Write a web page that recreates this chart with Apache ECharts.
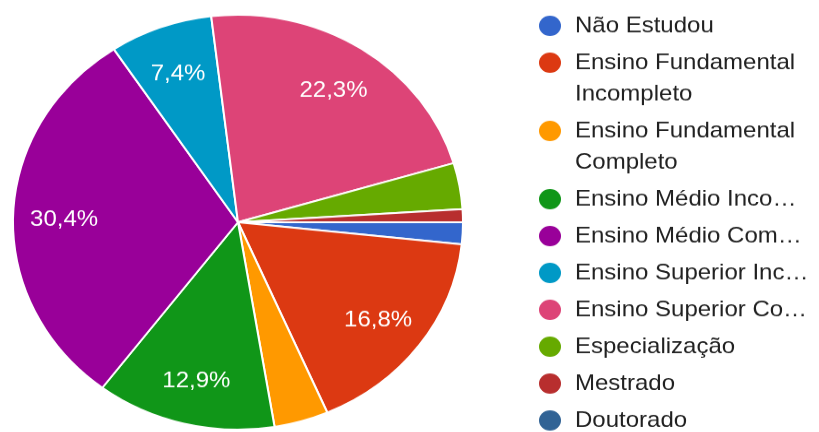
<!DOCTYPE html>
<html>
<head>
<meta charset="utf-8">
<script src="https://cdn.jsdelivr.net/npm/echarts@6/dist/echarts.min.js"></script>
<style>
  html, body { margin: 0; padding: 0; background: #fff; overflow: hidden; width: 819px; height: 432px; }
  #chart { width: 819px; height: 500px; transform: scaleY(0.922); transform-origin: 0 0; }
</style>
</head>
<body>
<div id="chart"></div>
<script>
// Escolaridade dos respondentes (percentual de respostas)
const categories = [
  'Não Estudou',
  'Ensino Fundamental Incompleto',
  'Ensino Fundamental Completo',
  'Ensino Médio Incompleto',
  'Ensino Médio Completo',
  'Ensino Superior Incompleto',
  'Ensino Superior Completo',
  'Especialização',
  'Mestrado',
  'Doutorado'
];
const legendLabels = [
  'Não Estudou',
  'Ensino Fundamental\nIncompleto',
  'Ensino Fundamental\nCompleto',
  'Ensino Médio Inco…',
  'Ensino Médio Com…',
  'Ensino Superior Inc…',
  'Ensino Superior Co…',
  'Especialização',
  'Mestrado',
  'Doutorado'
];
const shares = [1.7, 16.8, 3.9, 12.9, 30.4, 7.4, 22.3, 3.6, 1.0, 0];
const palette = ['#3366cc', '#dc3912', '#ff9900', '#109618', '#990099',
                 '#0099c6', '#dd4477', '#66aa00', '#b82e2e', '#316395'];

const FONT = '"Liberation Sans", Arial, sans-serif';
const CENTER = [238, 241];
const RADIUS = 225;

const pieData = categories.map((name, i) => ({
  name: name,
  value: shares[i],
  itemStyle: { color: palette[i] }
}));

// rich styles for the legend: a coloured dot token per category
const legendRich = {
  g: { width: 14, height: 34, lineHeight: 34 },
  p: { width: 36, height: 34, lineHeight: 34 },
  t: { fontSize: 24, lineHeight: 34, fontFamily: FONT }
};
palette.forEach((c, i) => {
  legendRich['d' + i] = {
    width: 22, height: 22, borderRadius: 11,
    backgroundColor: c, lineHeight: 34
  };
});

const chart = echarts.init(document.getElementById('chart'), null, { renderer: 'canvas' });

chart.setOption({
  backgroundColor: '#ffffff',
  animation: false,
  legend: {
    orient: 'vertical',
    left: 534,
    top: 11,
    padding: 0,
    itemGap: 6,
    itemWidth: 0,
    itemHeight: 34,
    icon: 'none',
    data: categories,
    textStyle: { color: '#212121', fontSize: 24, fontFamily: FONT, rich: legendRich },
    formatter: function (name) {
      const i = categories.indexOf(name);
      return legendLabels[i].split('\n').map(function (line, k) {
        return (k === 0 ? '{d' + i + '|}{g|}' : '{p|}') + '{t|' + line + '}';
      }).join('\n');
    }
  },
  series: [
    {
      type: 'pie',
      center: CENTER,
      radius: RADIUS,
      startAngle: 0,
      clockwise: true,
      data: pieData,
      label: { show: false },
      labelLine: { show: false },
      itemStyle: { borderColor: '#ffffff', borderWidth: 2 },
      emphasis: { scale: false }
    },
    {
      // transparent ring that carries the percentage labels
      type: 'pie',
      center: CENTER,
      radius: [117, RADIUS],
      startAngle: 0,
      clockwise: true,
      silent: true,
      data: categories.map((name, i) => ({ name: name, value: shares[i] })),
      itemStyle: { color: 'rgba(0,0,0,0)', borderWidth: 0 },
      labelLine: { show: false },
      avoidLabelOverlap: false,
      label: {
        show: true,
        position: 'inside',
        offset: [0, 3],
        color: '#ffffff',
        fontSize: 24,
        fontFamily: FONT,
        formatter: function (p) {
          return p.value >= 5 ? p.value.toFixed(1).replace('.', ',') + '%' : '';
        }
      },
      emphasis: { disabled: true }
    }
  ]
});
</script>
</body>
</html>
